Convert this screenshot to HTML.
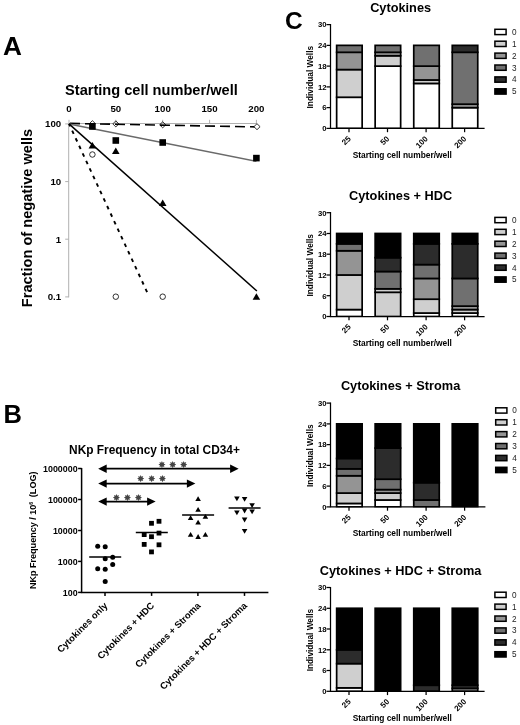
<!DOCTYPE html>
<html lang="en"><head><meta charset="utf-8"><title>Figure</title>
<style>
html,body{margin:0;padding:0;background:#fff;}
body{width:520px;height:725px;overflow:hidden;}
svg{display:block;font-family:'Liberation Sans', Arial, Helvetica, sans-serif;}
</style></head><body>
<svg width="520" height="725" viewBox="0 0 520 725">
<rect width="520" height="725" fill="#fff"/>
<text x="3.00" y="55.00" font-size="26.2" font-weight="bold" text-anchor="start" fill="#000" >A</text>
<text x="3.60" y="423.00" font-size="25.5" font-weight="bold" text-anchor="start" fill="#000" >B</text>
<text x="285.00" y="28.70" font-size="24.5" font-weight="bold" text-anchor="start" fill="#000" >C</text>
<text x="151.40" y="95.30" font-size="14.6" font-weight="bold" text-anchor="middle" fill="#000" >Starting cell number/well</text>
<g stroke="#b0b0b0" stroke-width="1" fill="none">
<path d="M68.2 123.5 H257.0"/>
<path d="M68.7 123.5 V297.4"/>
<path d="M69.0 119.8 V123.5"/>
<path d="M115.8 119.8 V123.5"/>
<path d="M162.7 119.8 V123.5"/>
<path d="M209.6 119.8 V123.5"/>
<path d="M256.4 119.8 V123.5"/>
<path d="M65.2 123.9 H68.7"/>
<path d="M65.2 181.6 H68.7"/>
<path d="M65.2 239.2 H68.7"/>
<path d="M65.2 296.9 H68.7"/>
</g>
<text x="69.00" y="111.80" font-size="9.7" font-weight="bold" text-anchor="middle" fill="#000" >0</text>
<text x="115.85" y="111.80" font-size="9.7" font-weight="bold" text-anchor="middle" fill="#000" >50</text>
<text x="162.70" y="111.80" font-size="9.7" font-weight="bold" text-anchor="middle" fill="#000" >100</text>
<text x="209.55" y="111.80" font-size="9.7" font-weight="bold" text-anchor="middle" fill="#000" >150</text>
<text x="256.40" y="111.80" font-size="9.7" font-weight="bold" text-anchor="middle" fill="#000" >200</text>
<text x="61.20" y="127.20" font-size="9.7" font-weight="bold" text-anchor="end" fill="#000" >100</text>
<text x="61.20" y="184.87" font-size="9.7" font-weight="bold" text-anchor="end" fill="#000" >10</text>
<text x="61.20" y="242.54" font-size="9.7" font-weight="bold" text-anchor="end" fill="#000" >1</text>
<text x="61.20" y="300.21" font-size="9.7" font-weight="bold" text-anchor="end" fill="#000" >0.1</text>
<text transform="translate(31.9,218) rotate(-90)" font-size="14.6" font-weight="bold" text-anchor="middle">Fraction of negative wells</text>
<path d="M69.0 123.4 L256.4 126.9" stroke="#000" stroke-width="1.6" stroke-dasharray="10 5" stroke-dashoffset="14" fill="none"/>
<path d="M69.0 123.9 L256.4 161.3" stroke="#6a6a6a" stroke-width="1.5" fill="none"/>
<path d="M69.0 123.9 L256.9 291" stroke="#000" stroke-width="1.45" fill="none"/>
<path d="M69.0 123.9 L147.9 293.8" stroke="#000" stroke-width="1.9" stroke-dasharray="3.6 4.7" stroke-dashoffset="0.8" fill="none"/>
<path d="M89.3 123.7 L92.4 120.7 L95.5 123.7 L92.4 126.7 Z" fill="none" stroke="#000" stroke-width="0.8"/>
<path d="M112.8 123.9 L115.8 120.9 L118.9 123.9 L115.8 126.9 Z" fill="none" stroke="#000" stroke-width="0.8"/>
<path d="M159.6 124.8 L162.7 121.8 L165.8 124.8 L162.7 127.8 Z" fill="none" stroke="#000" stroke-width="0.8"/>
<path d="M253.9 126.7 L257.0 123.7 L260.1 126.7 L257.0 129.7 Z" fill="#fff" stroke="#000" stroke-width="0.8"/>
<rect x="89.1" y="123.2" width="6.6" height="6.6" fill="#000"/>
<rect x="112.5" y="137.2" width="6.6" height="6.6" fill="#000"/>
<rect x="159.4" y="139.2" width="6.6" height="6.6" fill="#000"/>
<rect x="253.1" y="154.8" width="6.6" height="6.6" fill="#000"/>
<path d="M88.6 148.6 L92.4 142.0 L96.2 148.6 Z" fill="#000"/>
<path d="M112.0 154.1 L115.8 147.5 L119.6 154.1 Z" fill="#000"/>
<path d="M158.9 206.1 L162.7 199.5 L166.5 206.1 Z" fill="#000"/>
<path d="M252.6 299.8 L256.4 293.2 L260.2 299.8 Z" fill="#000"/>
<circle cx="92.4" cy="154.5" r="2.75" fill="#fff" stroke="#000" stroke-width="0.8"/>
<circle cx="115.8" cy="296.7" r="2.75" fill="#fff" stroke="#000" stroke-width="0.8"/>
<circle cx="162.7" cy="296.7" r="2.75" fill="#fff" stroke="#000" stroke-width="0.8"/>
<text x="154.50" y="453.70" font-size="11.9" font-weight="bold" text-anchor="middle" fill="#000" >NKp Frequency in total CD34+</text>
<g stroke="#000" stroke-width="1.5" fill="none">
<path d="M81.6 467.9 V592.4 H268.4"/>
<path d="M78.1 592.4 H81.6"/>
<path d="M78.1 561.4 H81.6"/>
<path d="M78.1 530.5 H81.6"/>
<path d="M78.1 499.5 H81.6"/>
<path d="M78.1 468.5 H81.6"/>
<path d="M105 592.4 V595.9"/>
<path d="M151.6 592.4 V595.9"/>
<path d="M197.9 592.4 V595.9"/>
<path d="M244.5 592.4 V595.9"/>
</g>
<text x="77.60" y="595.50" font-size="8.9" font-weight="bold" text-anchor="end" fill="#000" >100</text>
<text x="77.60" y="564.53" font-size="8.9" font-weight="bold" text-anchor="end" fill="#000" >1000</text>
<text x="77.60" y="533.56" font-size="8.9" font-weight="bold" text-anchor="end" fill="#000" >10000</text>
<text x="77.60" y="502.59" font-size="8.9" font-weight="bold" text-anchor="end" fill="#000" >100000</text>
<text x="77.60" y="471.62" font-size="8.9" font-weight="bold" text-anchor="end" fill="#000" >1000000</text>
<text transform="translate(36.3,530.3) rotate(-90)" font-size="9.05" font-weight="bold" text-anchor="middle">NKp Frequency / 10<tspan dy="-3.4" font-size="5.4">6</tspan><tspan dy="3.4" dx="4.5">(LOG)</tspan></text>
<text transform="translate(108.2,606.1999999999999) rotate(-45)" font-size="9.4" font-weight="bold" text-anchor="end">Cytokines only</text>
<text transform="translate(154.79999999999998,606.1999999999999) rotate(-45)" font-size="9.4" font-weight="bold" text-anchor="end">Cytokines + HDC</text>
<text transform="translate(201.1,606.1999999999999) rotate(-45)" font-size="9.4" font-weight="bold" text-anchor="end">Cytokines + Stroma</text>
<text transform="translate(247.7,606.1999999999999) rotate(-45)" font-size="9.4" font-weight="bold" text-anchor="end">Cytokines + HDC + Stroma</text>
<path d="M105.7 468.7 H231.1" stroke="#000" stroke-width="1.8"/>
<path d="M98.2 468.7 L106.7 464.5 L106.7 472.9 Z" fill="#000"/>
<path d="M238.6 468.7 L230.1 464.5 L230.1 472.9 Z" fill="#000"/>
<path d="M105.7 483.6 H187.9" stroke="#000" stroke-width="1.8"/>
<path d="M98.2 483.6 L106.7 479.40000000000003 L106.7 487.8 Z" fill="#000"/>
<path d="M195.4 483.6 L186.9 479.40000000000003 L186.9 487.8 Z" fill="#000"/>
<path d="M105.7 501.6 H148.1" stroke="#000" stroke-width="1.8"/>
<path d="M98.2 501.6 L106.7 497.40000000000003 L106.7 505.8 Z" fill="#000"/>
<path d="M155.6 501.6 L147.1 497.40000000000003 L147.1 505.8 Z" fill="#000"/>
<text x="161.9" y="467.79999999999995" font-size="9.4" text-anchor="middle" fill="#444" font-family="DejaVu Sans, sans-serif">✸</text>
<text x="172.8" y="467.79999999999995" font-size="9.4" text-anchor="middle" fill="#444" font-family="DejaVu Sans, sans-serif">✸</text>
<text x="183.6" y="467.79999999999995" font-size="9.4" text-anchor="middle" fill="#444" font-family="DejaVu Sans, sans-serif">✸</text>
<text x="140.8" y="482.4" font-size="9.4" text-anchor="middle" fill="#444" font-family="DejaVu Sans, sans-serif">✸</text>
<text x="151.6" y="482.4" font-size="9.4" text-anchor="middle" fill="#444" font-family="DejaVu Sans, sans-serif">✸</text>
<text x="162.5" y="482.4" font-size="9.4" text-anchor="middle" fill="#444" font-family="DejaVu Sans, sans-serif">✸</text>
<text x="116.5" y="500.5" font-size="9.4" text-anchor="middle" fill="#444" font-family="DejaVu Sans, sans-serif">✸</text>
<text x="127.5" y="500.5" font-size="9.4" text-anchor="middle" fill="#444" font-family="DejaVu Sans, sans-serif">✸</text>
<text x="138.5" y="500.5" font-size="9.4" text-anchor="middle" fill="#444" font-family="DejaVu Sans, sans-serif">✸</text>
<circle cx="97.7" cy="546.3" r="2.5" fill="#000"/>
<circle cx="105.2" cy="546.7" r="2.5" fill="#000"/>
<circle cx="105.2" cy="558.8" r="2.5" fill="#000"/>
<circle cx="112.7" cy="557.3" r="2.5" fill="#000"/>
<circle cx="112.7" cy="564.6" r="2.5" fill="#000"/>
<circle cx="97.7" cy="568.8" r="2.5" fill="#000"/>
<circle cx="105.2" cy="569.2" r="2.5" fill="#000"/>
<circle cx="105.2" cy="581.5" r="2.5" fill="#000"/>
<path d="M89.2 557.1 H121.2" stroke="#000" stroke-width="1.5"/>
<rect x="149.1" y="520.9" width="4.8" height="4.8" fill="#000"/>
<rect x="156.6" y="518.9" width="4.8" height="4.8" fill="#000"/>
<rect x="141.8" y="532.2" width="4.8" height="4.8" fill="#000"/>
<rect x="149.1" y="534.3" width="4.8" height="4.8" fill="#000"/>
<rect x="156.6" y="530.7" width="4.8" height="4.8" fill="#000"/>
<rect x="141.8" y="542.0" width="4.8" height="4.8" fill="#000"/>
<rect x="156.6" y="542.4" width="4.8" height="4.8" fill="#000"/>
<rect x="149.1" y="549.5" width="4.8" height="4.8" fill="#000"/>
<path d="M135.8 532.5 H167.8" stroke="#000" stroke-width="1.5"/>
<path d="M195.3 501.0 L198.1 496.2 L200.9 501.0 Z" fill="#000"/>
<path d="M195.3 511.8 L198.1 507.0 L200.9 511.8 Z" fill="#000"/>
<path d="M187.8 520.1 L190.6 515.3 L193.4 520.1 Z" fill="#000"/>
<path d="M202.6 518.7 L205.4 513.9 L208.2 518.7 Z" fill="#000"/>
<path d="M195.3 524.5 L198.1 519.7 L200.9 524.5 Z" fill="#000"/>
<path d="M187.8 536.8 L190.6 532.0 L193.4 536.8 Z" fill="#000"/>
<path d="M195.3 538.9 L198.1 534.1 L200.9 538.9 Z" fill="#000"/>
<path d="M202.6 536.8 L205.4 532.0 L208.2 536.8 Z" fill="#000"/>
<path d="M182.1 515.0 H214.1" stroke="#000" stroke-width="1.5"/>
<path d="M234.1 496.5 L236.9 501.3 L239.7 496.5 Z" fill="#000"/>
<path d="M241.8 497.0 L244.6 501.8 L247.4 497.0 Z" fill="#000"/>
<path d="M249.3 503.2 L252.1 508.0 L254.9 503.2 Z" fill="#000"/>
<path d="M234.1 510.5 L236.9 515.3 L239.7 510.5 Z" fill="#000"/>
<path d="M241.8 508.6 L244.6 513.4 L247.4 508.6 Z" fill="#000"/>
<path d="M249.3 509.5 L252.1 514.3 L254.9 509.5 Z" fill="#000"/>
<path d="M241.8 517.6 L244.6 522.4 L247.4 517.6 Z" fill="#000"/>
<path d="M241.8 529.0 L244.6 533.8 L247.4 529.0 Z" fill="#000"/>
<path d="M228.6 508.1 H260.6" stroke="#000" stroke-width="1.5"/>
<text x="400.60" y="11.70" font-size="12.75" font-weight="bold" text-anchor="middle" fill="#000" >Cytokines</text>
<clipPath id="c128"><rect x="330" y="18.400000000000006" width="160" height="110.62"/></clipPath><g clip-path="url(#c128)">
<rect x="336.65" y="97.26" width="25.50" height="31.14" fill="#ffffff" stroke="#000" stroke-width="1.7"/>
<rect x="336.65" y="69.58" width="25.50" height="27.68" fill="#cfcfcf" stroke="#000" stroke-width="1.7"/>
<rect x="336.65" y="52.28" width="25.50" height="17.30" fill="#949494" stroke="#000" stroke-width="1.7"/>
<rect x="336.65" y="45.36" width="25.50" height="6.92" fill="#707070" stroke="#000" stroke-width="1.7"/>
<rect x="375.15" y="66.12" width="25.50" height="62.28" fill="#ffffff" stroke="#000" stroke-width="1.7"/>
<rect x="375.15" y="55.74" width="25.50" height="10.38" fill="#cfcfcf" stroke="#000" stroke-width="1.7"/>
<rect x="375.15" y="52.28" width="25.50" height="3.46" fill="#949494" stroke="#000" stroke-width="1.7"/>
<rect x="375.15" y="45.36" width="25.50" height="6.92" fill="#707070" stroke="#000" stroke-width="1.7"/>
<rect x="413.75" y="83.42" width="25.50" height="44.98" fill="#ffffff" stroke="#000" stroke-width="1.7"/>
<rect x="413.75" y="79.96" width="25.50" height="3.46" fill="#cfcfcf" stroke="#000" stroke-width="1.7"/>
<rect x="413.75" y="66.12" width="25.50" height="13.84" fill="#949494" stroke="#000" stroke-width="1.7"/>
<rect x="413.75" y="45.36" width="25.50" height="20.76" fill="#707070" stroke="#000" stroke-width="1.7"/>
<rect x="452.25" y="107.64" width="25.50" height="20.76" fill="#ffffff" stroke="#000" stroke-width="1.7"/>
<rect x="452.25" y="104.18" width="25.50" height="3.46" fill="#949494" stroke="#000" stroke-width="1.7"/>
<rect x="452.25" y="52.28" width="25.50" height="51.90" fill="#707070" stroke="#000" stroke-width="1.7"/>
<rect x="452.25" y="45.36" width="25.50" height="6.92" fill="#2c2c2c" stroke="#000" stroke-width="1.7"/>
</g>
<g stroke="#000" stroke-width="1.25" fill="none">
<path d="M330.5 24.0 V128.4 H484.6"/>
<path d="M326.5 128.4 H330.5"/>
<path d="M326.5 107.6 H330.5"/>
<path d="M326.5 86.9 H330.5"/>
<path d="M326.5 66.1 H330.5"/>
<path d="M326.5 45.4 H330.5"/>
<path d="M326.5 24.6 H330.5"/>
<path d="M349.0 128.4 V132.20000000000002"/>
<path d="M387.5 128.4 V132.20000000000002"/>
<path d="M426.1 128.4 V132.20000000000002"/>
<path d="M464.6 128.4 V132.20000000000002"/>
</g>
<text x="326.50" y="131.20" font-size="7.7" font-weight="bold" text-anchor="end" fill="#000" >0</text>
<text x="326.50" y="110.44" font-size="7.7" font-weight="bold" text-anchor="end" fill="#000" >6</text>
<text x="326.50" y="89.68" font-size="7.7" font-weight="bold" text-anchor="end" fill="#000" >12</text>
<text x="326.50" y="68.92" font-size="7.7" font-weight="bold" text-anchor="end" fill="#000" >18</text>
<text x="326.50" y="48.16" font-size="7.7" font-weight="bold" text-anchor="end" fill="#000" >24</text>
<text x="326.50" y="27.40" font-size="7.7" font-weight="bold" text-anchor="end" fill="#000" >30</text>
<text transform="translate(351.3,139.3) rotate(-45)" font-size="8" font-weight="bold" text-anchor="end">25</text>
<text transform="translate(389.8,139.3) rotate(-45)" font-size="8" font-weight="bold" text-anchor="end">50</text>
<text transform="translate(428.4,139.3) rotate(-45)" font-size="8" font-weight="bold" text-anchor="end">100</text>
<text transform="translate(466.9,139.3) rotate(-45)" font-size="8" font-weight="bold" text-anchor="end">200</text>
<text transform="translate(312.9,77.2) rotate(-90)" font-size="8.3" font-weight="bold" text-anchor="middle">Individual Wells</text>
<text x="402.30" y="157.70" font-size="8.4" font-weight="bold" text-anchor="middle" fill="#000" >Starting cell number/well</text>
<rect x="494.9" y="29.3" width="11.2" height="5.3" fill="#ffffff" stroke="#000" stroke-width="1.5"/>
<text x="514.20" y="34.80" font-size="8.2" font-weight="normal" text-anchor="middle" fill="#222" >0</text>
<rect x="494.9" y="41.2" width="11.2" height="5.3" fill="#cfcfcf" stroke="#000" stroke-width="1.5"/>
<text x="514.20" y="46.70" font-size="8.2" font-weight="normal" text-anchor="middle" fill="#222" >1</text>
<rect x="494.9" y="53.1" width="11.2" height="5.3" fill="#949494" stroke="#000" stroke-width="1.5"/>
<text x="514.20" y="58.60" font-size="8.2" font-weight="normal" text-anchor="middle" fill="#222" >2</text>
<rect x="494.9" y="65.0" width="11.2" height="5.3" fill="#707070" stroke="#000" stroke-width="1.5"/>
<text x="514.20" y="70.50" font-size="8.2" font-weight="normal" text-anchor="middle" fill="#222" >3</text>
<rect x="494.9" y="76.9" width="11.2" height="5.3" fill="#2c2c2c" stroke="#000" stroke-width="1.5"/>
<text x="514.20" y="82.40" font-size="8.2" font-weight="normal" text-anchor="middle" fill="#222" >4</text>
<rect x="494.9" y="88.8" width="11.2" height="5.3" fill="#000000" stroke="#000" stroke-width="1.5"/>
<text x="514.20" y="94.30" font-size="8.2" font-weight="normal" text-anchor="middle" fill="#222" >5</text>
<text x="400.60" y="199.80" font-size="12.75" font-weight="bold" text-anchor="middle" fill="#000" >Cytokines + HDC</text>
<clipPath id="c316"><rect x="330" y="206.5" width="160" height="110.62"/></clipPath><g clip-path="url(#c316)">
<rect x="336.65" y="309.58" width="25.50" height="6.92" fill="#ffffff" stroke="#000" stroke-width="1.7"/>
<rect x="336.65" y="274.98" width="25.50" height="34.60" fill="#cfcfcf" stroke="#000" stroke-width="1.7"/>
<rect x="336.65" y="250.76" width="25.50" height="24.22" fill="#949494" stroke="#000" stroke-width="1.7"/>
<rect x="336.65" y="243.84" width="25.50" height="6.92" fill="#707070" stroke="#000" stroke-width="1.7"/>
<rect x="336.65" y="233.46" width="25.50" height="10.38" fill="#000000" stroke="#000" stroke-width="1.7"/>
<rect x="375.15" y="292.28" width="25.50" height="24.22" fill="#cfcfcf" stroke="#000" stroke-width="1.7"/>
<rect x="375.15" y="288.82" width="25.50" height="3.46" fill="#cfcfcf" stroke="#000" stroke-width="1.7"/>
<rect x="375.15" y="271.52" width="25.50" height="17.30" fill="#707070" stroke="#000" stroke-width="1.7"/>
<rect x="375.15" y="257.68" width="25.50" height="13.84" fill="#2c2c2c" stroke="#000" stroke-width="1.7"/>
<rect x="375.15" y="233.46" width="25.50" height="24.22" fill="#000000" stroke="#000" stroke-width="1.7"/>
<rect x="413.75" y="313.04" width="25.50" height="3.46" fill="#ffffff" stroke="#000" stroke-width="1.7"/>
<rect x="413.75" y="299.20" width="25.50" height="13.84" fill="#cfcfcf" stroke="#000" stroke-width="1.7"/>
<rect x="413.75" y="278.44" width="25.50" height="20.76" fill="#949494" stroke="#000" stroke-width="1.7"/>
<rect x="413.75" y="264.60" width="25.50" height="13.84" fill="#707070" stroke="#000" stroke-width="1.7"/>
<rect x="413.75" y="243.84" width="25.50" height="20.76" fill="#2c2c2c" stroke="#000" stroke-width="1.7"/>
<rect x="413.75" y="233.46" width="25.50" height="10.38" fill="#000000" stroke="#000" stroke-width="1.7"/>
<rect x="452.25" y="313.04" width="25.50" height="3.46" fill="#ffffff" stroke="#000" stroke-width="1.7"/>
<rect x="452.25" y="309.58" width="25.50" height="3.46" fill="#cfcfcf" stroke="#000" stroke-width="1.7"/>
<rect x="452.25" y="306.12" width="25.50" height="3.46" fill="#949494" stroke="#000" stroke-width="1.7"/>
<rect x="452.25" y="278.44" width="25.50" height="27.68" fill="#707070" stroke="#000" stroke-width="1.7"/>
<rect x="452.25" y="243.84" width="25.50" height="34.60" fill="#2c2c2c" stroke="#000" stroke-width="1.7"/>
<rect x="452.25" y="233.46" width="25.50" height="10.38" fill="#000000" stroke="#000" stroke-width="1.7"/>
</g>
<g stroke="#000" stroke-width="1.25" fill="none">
<path d="M330.5 212.1 V316.5 H484.6"/>
<path d="M326.5 316.5 H330.5"/>
<path d="M326.5 295.7 H330.5"/>
<path d="M326.5 275.0 H330.5"/>
<path d="M326.5 254.2 H330.5"/>
<path d="M326.5 233.5 H330.5"/>
<path d="M326.5 212.7 H330.5"/>
<path d="M349.0 316.5 V320.3"/>
<path d="M387.5 316.5 V320.3"/>
<path d="M426.1 316.5 V320.3"/>
<path d="M464.6 316.5 V320.3"/>
</g>
<text x="326.50" y="319.30" font-size="7.7" font-weight="bold" text-anchor="end" fill="#000" >0</text>
<text x="326.50" y="298.54" font-size="7.7" font-weight="bold" text-anchor="end" fill="#000" >6</text>
<text x="326.50" y="277.78" font-size="7.7" font-weight="bold" text-anchor="end" fill="#000" >12</text>
<text x="326.50" y="257.02" font-size="7.7" font-weight="bold" text-anchor="end" fill="#000" >18</text>
<text x="326.50" y="236.26" font-size="7.7" font-weight="bold" text-anchor="end" fill="#000" >24</text>
<text x="326.50" y="215.50" font-size="7.7" font-weight="bold" text-anchor="end" fill="#000" >30</text>
<text transform="translate(351.3,327.4) rotate(-45)" font-size="8" font-weight="bold" text-anchor="end">25</text>
<text transform="translate(389.8,327.4) rotate(-45)" font-size="8" font-weight="bold" text-anchor="end">50</text>
<text transform="translate(428.4,327.4) rotate(-45)" font-size="8" font-weight="bold" text-anchor="end">100</text>
<text transform="translate(466.9,327.4) rotate(-45)" font-size="8" font-weight="bold" text-anchor="end">200</text>
<text transform="translate(312.9,265.3) rotate(-90)" font-size="8.3" font-weight="bold" text-anchor="middle">Individual Wells</text>
<text x="402.30" y="345.80" font-size="8.4" font-weight="bold" text-anchor="middle" fill="#000" >Starting cell number/well</text>
<rect x="494.9" y="217.4" width="11.2" height="5.3" fill="#ffffff" stroke="#000" stroke-width="1.5"/>
<text x="514.20" y="222.90" font-size="8.2" font-weight="normal" text-anchor="middle" fill="#222" >0</text>
<rect x="494.9" y="229.3" width="11.2" height="5.3" fill="#cfcfcf" stroke="#000" stroke-width="1.5"/>
<text x="514.20" y="234.80" font-size="8.2" font-weight="normal" text-anchor="middle" fill="#222" >1</text>
<rect x="494.9" y="241.2" width="11.2" height="5.3" fill="#949494" stroke="#000" stroke-width="1.5"/>
<text x="514.20" y="246.70" font-size="8.2" font-weight="normal" text-anchor="middle" fill="#222" >2</text>
<rect x="494.9" y="253.1" width="11.2" height="5.3" fill="#707070" stroke="#000" stroke-width="1.5"/>
<text x="514.20" y="258.60" font-size="8.2" font-weight="normal" text-anchor="middle" fill="#222" >3</text>
<rect x="494.9" y="265.0" width="11.2" height="5.3" fill="#2c2c2c" stroke="#000" stroke-width="1.5"/>
<text x="514.20" y="270.50" font-size="8.2" font-weight="normal" text-anchor="middle" fill="#222" >4</text>
<rect x="494.9" y="276.9" width="11.2" height="5.3" fill="#000000" stroke="#000" stroke-width="1.5"/>
<text x="514.20" y="282.40" font-size="8.2" font-weight="normal" text-anchor="middle" fill="#222" >5</text>
<text x="400.60" y="390.20" font-size="12.75" font-weight="bold" text-anchor="middle" fill="#000" >Cytokines + Stroma</text>
<clipPath id="c506"><rect x="330" y="396.9" width="160" height="110.62"/></clipPath><g clip-path="url(#c506)">
<rect x="336.65" y="503.44" width="25.50" height="3.46" fill="#ffffff" stroke="#000" stroke-width="1.7"/>
<rect x="336.65" y="493.06" width="25.50" height="10.38" fill="#cfcfcf" stroke="#000" stroke-width="1.7"/>
<rect x="336.65" y="475.76" width="25.50" height="17.30" fill="#949494" stroke="#000" stroke-width="1.7"/>
<rect x="336.65" y="468.84" width="25.50" height="6.92" fill="#707070" stroke="#000" stroke-width="1.7"/>
<rect x="336.65" y="458.46" width="25.50" height="10.38" fill="#2c2c2c" stroke="#000" stroke-width="1.7"/>
<rect x="336.65" y="423.86" width="25.50" height="34.60" fill="#000000" stroke="#000" stroke-width="1.7"/>
<rect x="375.15" y="499.98" width="25.50" height="6.92" fill="#ffffff" stroke="#000" stroke-width="1.7"/>
<rect x="375.15" y="493.06" width="25.50" height="6.92" fill="#cfcfcf" stroke="#000" stroke-width="1.7"/>
<rect x="375.15" y="489.60" width="25.50" height="3.46" fill="#949494" stroke="#000" stroke-width="1.7"/>
<rect x="375.15" y="479.22" width="25.50" height="10.38" fill="#707070" stroke="#000" stroke-width="1.7"/>
<rect x="375.15" y="448.08" width="25.50" height="31.14" fill="#2c2c2c" stroke="#000" stroke-width="1.7"/>
<rect x="375.15" y="423.86" width="25.50" height="24.22" fill="#000000" stroke="#000" stroke-width="1.7"/>
<rect x="413.75" y="499.98" width="25.50" height="6.92" fill="#707070" stroke="#000" stroke-width="1.7"/>
<rect x="413.75" y="482.68" width="25.50" height="17.30" fill="#2c2c2c" stroke="#000" stroke-width="1.7"/>
<rect x="413.75" y="423.86" width="25.50" height="58.82" fill="#000000" stroke="#000" stroke-width="1.7"/>
<rect x="452.25" y="423.86" width="25.50" height="83.04" fill="#000000" stroke="#000" stroke-width="1.7"/>
</g>
<g stroke="#000" stroke-width="1.25" fill="none">
<path d="M330.5 402.5 V506.9 H485.4"/>
<path d="M326.5 506.9 H330.5"/>
<path d="M326.5 486.1 H330.5"/>
<path d="M326.5 465.4 H330.5"/>
<path d="M326.5 444.6 H330.5"/>
<path d="M326.5 423.9 H330.5"/>
<path d="M326.5 403.1 H330.5"/>
<path d="M349.0 506.9 V510.7"/>
<path d="M387.5 506.9 V510.7"/>
<path d="M426.1 506.9 V510.7"/>
<path d="M464.6 506.9 V510.7"/>
</g>
<text x="326.50" y="509.70" font-size="7.7" font-weight="bold" text-anchor="end" fill="#000" >0</text>
<text x="326.50" y="488.94" font-size="7.7" font-weight="bold" text-anchor="end" fill="#000" >6</text>
<text x="326.50" y="468.18" font-size="7.7" font-weight="bold" text-anchor="end" fill="#000" >12</text>
<text x="326.50" y="447.42" font-size="7.7" font-weight="bold" text-anchor="end" fill="#000" >18</text>
<text x="326.50" y="426.66" font-size="7.7" font-weight="bold" text-anchor="end" fill="#000" >24</text>
<text x="326.50" y="405.90" font-size="7.7" font-weight="bold" text-anchor="end" fill="#000" >30</text>
<text transform="translate(351.3,517.8) rotate(-45)" font-size="8" font-weight="bold" text-anchor="end">25</text>
<text transform="translate(389.8,517.8) rotate(-45)" font-size="8" font-weight="bold" text-anchor="end">50</text>
<text transform="translate(428.4,517.8) rotate(-45)" font-size="8" font-weight="bold" text-anchor="end">100</text>
<text transform="translate(466.9,517.8) rotate(-45)" font-size="8" font-weight="bold" text-anchor="end">200</text>
<text transform="translate(312.9,455.7) rotate(-90)" font-size="8.3" font-weight="bold" text-anchor="middle">Individual Wells</text>
<text x="402.30" y="536.20" font-size="8.4" font-weight="bold" text-anchor="middle" fill="#000" >Starting cell number/well</text>
<rect x="495.7" y="407.8" width="11.2" height="5.3" fill="#ffffff" stroke="#000" stroke-width="1.5"/>
<text x="514.60" y="413.30" font-size="8.2" font-weight="normal" text-anchor="middle" fill="#222" >0</text>
<rect x="495.7" y="419.7" width="11.2" height="5.3" fill="#cfcfcf" stroke="#000" stroke-width="1.5"/>
<text x="514.60" y="425.20" font-size="8.2" font-weight="normal" text-anchor="middle" fill="#222" >1</text>
<rect x="495.7" y="431.6" width="11.2" height="5.3" fill="#949494" stroke="#000" stroke-width="1.5"/>
<text x="514.60" y="437.10" font-size="8.2" font-weight="normal" text-anchor="middle" fill="#222" >2</text>
<rect x="495.7" y="443.5" width="11.2" height="5.3" fill="#707070" stroke="#000" stroke-width="1.5"/>
<text x="514.60" y="449.00" font-size="8.2" font-weight="normal" text-anchor="middle" fill="#222" >3</text>
<rect x="495.7" y="455.4" width="11.2" height="5.3" fill="#2c2c2c" stroke="#000" stroke-width="1.5"/>
<text x="514.60" y="460.90" font-size="8.2" font-weight="normal" text-anchor="middle" fill="#222" >4</text>
<rect x="495.7" y="467.3" width="11.2" height="5.3" fill="#000000" stroke="#000" stroke-width="1.5"/>
<text x="514.60" y="472.80" font-size="8.2" font-weight="normal" text-anchor="middle" fill="#222" >5</text>
<text x="400.60" y="574.60" font-size="12.75" font-weight="bold" text-anchor="middle" fill="#000" >Cytokines + HDC + Stroma</text>
<clipPath id="c691"><rect x="330" y="581.3" width="160" height="110.62"/></clipPath><g clip-path="url(#c691)">
<rect x="336.65" y="687.84" width="25.50" height="3.46" fill="#ffffff" stroke="#000" stroke-width="1.7"/>
<rect x="336.65" y="663.62" width="25.50" height="24.22" fill="#cfcfcf" stroke="#000" stroke-width="1.7"/>
<rect x="336.65" y="649.78" width="25.50" height="13.84" fill="#2c2c2c" stroke="#000" stroke-width="1.7"/>
<rect x="336.65" y="608.26" width="25.50" height="41.52" fill="#000000" stroke="#000" stroke-width="1.7"/>
<rect x="375.15" y="608.26" width="25.50" height="83.04" fill="#000000" stroke="#000" stroke-width="1.7"/>
<rect x="413.75" y="685.25" width="25.50" height="6.05" fill="#2c2c2c" stroke="#000" stroke-width="1.7"/>
<rect x="413.75" y="608.26" width="25.50" height="76.98" fill="#000000" stroke="#000" stroke-width="1.7"/>
<rect x="452.25" y="688.36" width="25.50" height="2.94" fill="#949494" stroke="#000" stroke-width="1.7"/>
<rect x="452.25" y="685.25" width="25.50" height="3.11" fill="#2c2c2c" stroke="#000" stroke-width="1.7"/>
<rect x="452.25" y="608.26" width="25.50" height="76.98" fill="#000000" stroke="#000" stroke-width="1.7"/>
</g>
<g stroke="#000" stroke-width="1.25" fill="none">
<path d="M330.5 586.9 V691.3 H484.6"/>
<path d="M326.5 691.3 H330.5"/>
<path d="M326.5 670.5 H330.5"/>
<path d="M326.5 649.8 H330.5"/>
<path d="M326.5 629.0 H330.5"/>
<path d="M326.5 608.3 H330.5"/>
<path d="M326.5 587.5 H330.5"/>
<path d="M349.0 691.3 V695.0999999999999"/>
<path d="M387.5 691.3 V695.0999999999999"/>
<path d="M426.1 691.3 V695.0999999999999"/>
<path d="M464.6 691.3 V695.0999999999999"/>
</g>
<text x="326.50" y="694.10" font-size="7.7" font-weight="bold" text-anchor="end" fill="#000" >0</text>
<text x="326.50" y="673.34" font-size="7.7" font-weight="bold" text-anchor="end" fill="#000" >6</text>
<text x="326.50" y="652.58" font-size="7.7" font-weight="bold" text-anchor="end" fill="#000" >12</text>
<text x="326.50" y="631.82" font-size="7.7" font-weight="bold" text-anchor="end" fill="#000" >18</text>
<text x="326.50" y="611.06" font-size="7.7" font-weight="bold" text-anchor="end" fill="#000" >24</text>
<text x="326.50" y="590.30" font-size="7.7" font-weight="bold" text-anchor="end" fill="#000" >30</text>
<text transform="translate(351.3,702.1999999999999) rotate(-45)" font-size="8" font-weight="bold" text-anchor="end">25</text>
<text transform="translate(389.8,702.1999999999999) rotate(-45)" font-size="8" font-weight="bold" text-anchor="end">50</text>
<text transform="translate(428.4,702.1999999999999) rotate(-45)" font-size="8" font-weight="bold" text-anchor="end">100</text>
<text transform="translate(466.9,702.1999999999999) rotate(-45)" font-size="8" font-weight="bold" text-anchor="end">200</text>
<text transform="translate(312.9,640.0999999999999) rotate(-90)" font-size="8.3" font-weight="bold" text-anchor="middle">Individual Wells</text>
<text x="402.30" y="720.60" font-size="8.4" font-weight="bold" text-anchor="middle" fill="#000" >Starting cell number/well</text>
<rect x="494.9" y="592.2" width="11.2" height="5.3" fill="#ffffff" stroke="#000" stroke-width="1.5"/>
<text x="514.20" y="597.70" font-size="8.2" font-weight="normal" text-anchor="middle" fill="#222" >0</text>
<rect x="494.9" y="604.1" width="11.2" height="5.3" fill="#cfcfcf" stroke="#000" stroke-width="1.5"/>
<text x="514.20" y="609.60" font-size="8.2" font-weight="normal" text-anchor="middle" fill="#222" >1</text>
<rect x="494.9" y="616.0" width="11.2" height="5.3" fill="#949494" stroke="#000" stroke-width="1.5"/>
<text x="514.20" y="621.50" font-size="8.2" font-weight="normal" text-anchor="middle" fill="#222" >2</text>
<rect x="494.9" y="627.9" width="11.2" height="5.3" fill="#707070" stroke="#000" stroke-width="1.5"/>
<text x="514.20" y="633.40" font-size="8.2" font-weight="normal" text-anchor="middle" fill="#222" >3</text>
<rect x="494.9" y="639.8" width="11.2" height="5.3" fill="#2c2c2c" stroke="#000" stroke-width="1.5"/>
<text x="514.20" y="645.30" font-size="8.2" font-weight="normal" text-anchor="middle" fill="#222" >4</text>
<rect x="494.9" y="651.7" width="11.2" height="5.3" fill="#000000" stroke="#000" stroke-width="1.5"/>
<text x="514.20" y="657.20" font-size="8.2" font-weight="normal" text-anchor="middle" fill="#222" >5</text>
</svg>
</body></html>
